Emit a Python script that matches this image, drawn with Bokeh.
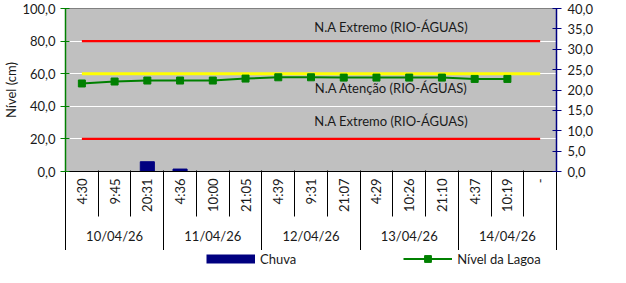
import math
from bokeh.plotting import figure
from bokeh.layouts import column
from bokeh.models import (Range1d, LinearAxis, FixedTicker, CustomJSTickFormatter,
                          ColumnDataSource, Label, Legend, LegendItem)
from bokeh.embed import file_html
from bokeh.resources import INLINE

# ---- data ----
dates = ["10/04/26", "11/04/26", "12/04/26", "13/04/26", "14/04/26"]
times = ["4:30", "9:45", "20:31", "4:36", "10:00", "21:05", "4:39", "9:31", "21:07",
         "4:29", "10:26", "21:10", "4:37", "10:19", "-"]
readings_per_date = 3
nivel = [54.0, 55.2, 55.8, 55.8, 55.8, 57.0, 57.8, 57.8, 57.6, 57.6, 57.6, 57.6, 56.8, 56.8, float("nan")]
chuva = [0, 0, 2.4, 0.6, 0, 0, 0, 0, 0, 0, 0, 0, 0, 0, 0]
na_extremo_sup = [80, 80, 80, 80, 80, 80, 80, 80, 80, 80, 80, 80, 80, 80, 80]
na_atencao = [60, 60, 60, 60, 60, 60, 60, 60, 60, 60, 60, 60, 60, 60, 60]
na_extremo_inf = [20, 20, 20, 20, 20, 20, 20, 20, 20, 20, 20, 20, 20, 20, 20]
left_ticks = [0, 20, 40, 60, 80, 100]
right_ticks = [0, 5, 10, 15, 20, 25, 30, 35, 40]

FONT = "Lato"
FS = "13px"
TXT = "#1a1a1a"
NAVY = "#000080"
GREEN = "#008000"

n = len(times)
g = readings_per_date
xc = [i + 0.5 for i in range(n)]  # category centres on the categorical index scale
src = ColumnDataSource(dict(x=xc, nivel=nivel, chuva=chuva, sup=na_extremo_sup,
                            ate=na_atencao, inf=na_extremo_inf))

p = figure(width=610, height=250, x_range=Range1d(0, n), y_range=Range1d(0, 100),
           output_backend="svg", toolbar_location=None, x_axis_location=None,
           min_border_left=60, min_border_right=54, min_border_top=8, min_border_bottom=78)
p.extra_y_ranges = {"chuva": Range1d(0, 40)}
p.background_fill_color = "#C0C0C0"
p.border_fill_color = "white"
p.outline_line_color = "#808080"
p.outline_line_width = 1

# grid
p.ygrid.ticker = FixedTicker(ticks=[20, 40, 60, 80])
p.ygrid.grid_line_color = "white"
p.ygrid.grid_line_width = 1
p.xgrid.visible = False

fmt = CustomJSTickFormatter(code="return tick.toFixed(1).replace('.', ',')")

# left axis
ya = p.yaxis[0]
ya.ticker = FixedTicker(ticks=left_ticks)
ya.formatter = fmt
ya.axis_label = "Nível (cm)"
ya.axis_label_text_font = FONT
ya.axis_label_text_font_size = FS
ya.axis_label_text_font_style = "normal"
ya.axis_label_text_color = TXT
ya.axis_label_standoff = 0
ya.major_label_text_font = FONT
ya.major_label_text_font_size = FS
ya.major_label_text_color = TXT
ya.major_label_standoff = 5
ya.axis_line_color = GREEN
ya.axis_line_width = 1.5
ya.major_tick_line_color = GREEN
ya.major_tick_in = 4
ya.major_tick_out = 5
ya.minor_tick_line_color = None

# right axis
ra = LinearAxis(y_range_name="chuva", ticker=FixedTicker(ticks=right_ticks), formatter=fmt)
ra.major_label_text_font = FONT
ra.major_label_text_font_size = FS
ra.major_label_text_color = TXT
ra.major_label_standoff = 6
ra.axis_line_color = NAVY
ra.axis_line_width = 1.5
ra.major_tick_line_color = NAVY
ra.major_tick_in = 4
ra.major_tick_out = 5
ra.minor_tick_line_color = None
p.add_layout(ra, "right")

# bottom axis A: time labels only
ta = LinearAxis(ticker=FixedTicker(ticks=xc),
                formatter=CustomJSTickFormatter(args=dict(labels=times),
                                                code="return labels[Math.floor(tick)]"))
ta.major_label_orientation = math.pi / 2
ta.major_label_text_font = FONT
ta.major_label_text_font_size = FS
ta.major_label_text_color = TXT
ta.major_label_standoff = 7
ta.major_tick_in = 0
ta.major_tick_out = 0
ta.major_tick_line_color = None
ta.minor_tick_line_color = None
ta.axis_line_color = "black"
ta.axis_line_width = 1.2
p.add_layout(ta, "below")

# bottom axis B: date labels + separators between readings (drawn upward)
da = LinearAxis(ticker=FixedTicker(ticks=[g * i + g / 2 for i in range(len(dates))],
                                   minor_ticks=list(range(n + 1))),
                formatter=CustomJSTickFormatter(args=dict(labels=dates, g=g),
                                                code="return labels[Math.floor(tick / g)]"))
da.major_label_text_font = FONT
da.major_label_text_font_size = FS
da.major_label_text_color = TXT
da.major_label_standoff = 11
da.major_tick_in = 0
da.major_tick_out = 0
da.major_tick_line_color = None
da.minor_tick_in = 44
da.minor_tick_out = 2
da.minor_tick_line_color = "black"
da.minor_tick_line_width = 1
da.axis_line_color = None
p.add_layout(da, "below")

# bottom axis C: date-group separators only
sa = LinearAxis(ticker=FixedTicker(ticks=[g * i for i in range(len(dates) + 1)]),
                formatter=CustomJSTickFormatter(code="return ''"))
sa.major_label_standoff = 0
sa.major_label_text_font_size = "1px"
sa.major_tick_in = 72
sa.major_tick_out = 4
sa.major_tick_line_color = "black"
sa.major_tick_line_width = 1
sa.minor_tick_line_color = None
sa.axis_line_color = None
p.add_layout(sa, "below")

# glyphs
p.vbar(x="x", top="chuva", width=0.43, bottom=0, source=src, y_range_name="chuva",
       fill_color=NAVY, line_color=NAVY)
p.line(x="x", y="sup", source=src, line_color="#FF0000", line_width=2.2)
p.line(x="x", y="ate", source=src, line_color="#FFFF00", line_width=3)
p.line(x="x", y="inf", source=src, line_color="#FF0000", line_width=2.2)
p.line(x="x", y="nivel", source=src, line_color=GREEN, line_width=2)
p.scatter(x="x", y="nivel", source=src, marker="square", size=7, fill_color=GREEN, line_color=GREEN)

# threshold texts
for txt, yv in [("N.A Extremo (RIO-ÁGUAS)", na_extremo_sup[0] + 8.5),
                ("N.A Atenção (RIO-ÁGUAS)", na_atencao[0] - 8.6),
                ("N.A Extremo (RIO-ÁGUAS)", na_extremo_inf[0] + 11.1)]:
    p.add_layout(Label(x=9.95, y=yv, text=txt, text_align="center",
                       text_baseline="middle", text_font=FONT, text_font_size=FS, text_color=TXT))

# right axis title, at the right edge
p.add_layout(Label(x=16.18, y=51.4, text="Chuva (mm)", angle=math.pi / 2,
                   text_align="center", text_baseline="top", text_font=FONT, text_font_size=FS,
                   text_color=TXT))

# legend strip below the chart
q = figure(width=610, height=17, x_range=Range1d(0, 1), y_range=Range1d(0, 1),
           output_backend="svg", toolbar_location=None, min_border=0,
           x_axis_location=None, y_axis_location=None)
q.outline_line_color = None
q.background_fill_color = "white"
q.border_fill_color = "white"
q.xgrid.visible = False
q.ygrid.visible = False
sw1 = q.line(x=[-3, -2], y=[-5, -5], line_color=NAVY, line_width=9, line_cap="butt")
sw2 = q.line(x=[-3, -2], y=[-5, -5], line_color=GREEN, line_width=2)
sw3 = q.scatter(x=[-3], y=[-5], marker="square", fill_color=GREEN, line_color=GREEN)
leg = Legend(items=[LegendItem(label="Chuva", renderers=[sw1]),
                    LegendItem(label="Nível da Lagoa", renderers=[sw2, sw3])],
             location=(141, 0), orientation="horizontal", glyph_width=49, glyph_height=17,
             label_standoff=5, spacing=107, padding=0, margin=0, border_line_color=None,
             background_fill_alpha=0, label_text_font=FONT, label_text_font_size=FS,
             label_text_color=TXT)
q.add_layout(leg, "center")

open("out.html", "w").write(file_html(column(p, q, spacing=0), INLINE))
